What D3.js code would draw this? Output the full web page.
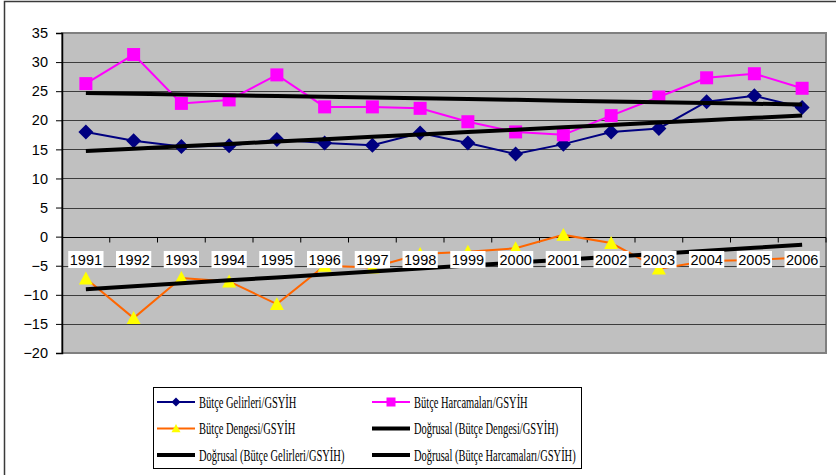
<!DOCTYPE html>
<html>
<head>
<meta charset="utf-8">
<script src="https://cdn.jsdelivr.net/npm/d3@7"></script>
<style>
  body { margin: 0; background: #fff; }
  svg { display: block; }
</style>
</head>
<body>
<script>
// Constant
const w = 836;
const h = 475;

// Data
const years = ['1991','1992','1993','1994','1995','1996','1997','1998','1999','2000','2001','2002','2003','2004','2005','2006'];
const gelirler = [18.0, 16.5, 15.5, 15.6, 16.7, 16.1, 15.7, 17.8, 16.1, 14.2, 15.9, 18.0, 18.6, 23.2, 24.2, 22.2];
const harcamalar = [26.3, 31.3, 22.9, 23.5, 27.8, 22.3, 22.3, 22.05, 19.75, 18.0, 17.5, 20.8, 24.0, 27.3, 28.0, 25.5];
const denge = [-7.2, -14.0, -7.1, -7.7, -11.6, -5.0, -5.3, -3.0, -2.6, -2.0, 0.3, -1.1, -5.5, -4.2, -4.0, -3.6];
const yTicks = [-20, -15, -10, -5, 0, 5, 10, 15, 20, 25, 30, 35];

const legendItems = [
  { label: 'Bütçe Gelirleri/GSYİH', type: 'diamond' },
  { label: 'Bütçe Harcamaları/GSYİH', type: 'square' },
  { label: 'Bütçe Dengesi/GSYİH', type: 'triangle' },
  { label: 'Doğrusal (Bütçe Dengesi/GSYİH)', type: 'trend' },
  { label: 'Doğrusal (Bütçe Gelirleri/GSYİH)', type: 'trend' },
  { label: 'Doğrusal (Bütçe Harcamaları/GSYİH)', type: 'trend' }
];

// Plot area
const plot = { left: 62, top: 33, right: 826, bottom: 353 };

const svg = d3.select('body')
  .append('svg')
  .attr('width', w)
  .attr('height', h);

// outer frame (cut at right / bottom in the original)
svg.append('rect')
  .attr('x', 4.5).attr('y', 1.5)
  .attr('width', 900).attr('height', 600)
  .attr('fill', '#fff')
  .attr('stroke', '#3a3a3a')
  .attr('stroke-width', 1.5);

const x = d3.scaleBand().domain(years).range([plot.left, plot.right]);
const y = d3.scaleLinear().domain([-20, 35]).range([plot.bottom, plot.top]);
const cx = (d, i) => x(years[i]) + x.bandwidth() / 2;

// background
svg.append('rect')
  .attr('x', plot.left).attr('y', plot.top)
  .attr('width', plot.right - plot.left).attr('height', plot.bottom - plot.top)
  .attr('fill', '#c0c0c0')
  .attr('stroke', '#808080')
  .attr('stroke-width', 2);

// gridlines
svg.append('g')
  .selectAll('line')
  .data(yTicks.filter(t => t > -20 && t < 35))
  .enter()
  .append('line')
  .attr('x1', plot.left).attr('x2', plot.right)
  .attr('y1', d => Math.round(y(d)) + 0.5).attr('y2', d => Math.round(y(d)) + 0.5)
  .attr('stroke', '#3c3c3c')
  .attr('stroke-width', 1);

// y axis
const yAxis = svg.append('g')
  .attr('transform', `translate(${plot.left},0)`)
  .call(d3.axisLeft(y).tickValues(yTicks).tickSize(6).tickPadding(8));
yAxis.select('.domain').attr('stroke', '#000').attr('stroke-width', 1.5);
yAxis.selectAll('.tick line').attr('stroke', '#000');
yAxis.selectAll('text')
  .attr('font-family', 'Liberation Sans, Arial, sans-serif')
  .attr('font-size', 14.5)
  .attr('fill', '#000');

// category axis at zero
const zeroY = Math.round(y(0)) + 0.5;
svg.append('line')
  .attr('x1', plot.left).attr('x2', plot.right)
  .attr('y1', zeroY).attr('y2', zeroY)
  .attr('stroke', '#000');
svg.append('g')
  .selectAll('line')
  .data(years.slice(1).concat(['end']))
  .enter()
  .append('line')
  .attr('x1', d => d === 'end' ? plot.right : x(d))
  .attr('x2', d => d === 'end' ? plot.right : x(d))
  .attr('y1', zeroY).attr('y2', zeroY + 5)
  .attr('stroke', '#000');

// series
const line = d3.line().x(cx).y(d => y(d));

function drawSeries(values, color) {
  svg.append('path')
    .datum(values)
    .attr('d', line)
    .attr('fill', 'none')
    .attr('stroke', color)
    .attr('stroke-width', 2);
}

function marker(g, type, size) {
  if (type === 'diamond') {
    g.append('path')
      .attr('d', `M0,${-size}L${size},0L0,${size}L${-size},0Z`)
      .attr('fill', '#000080');
  } else if (type === 'square') {
    g.append('rect')
      .attr('x', -size).attr('y', -size)
      .attr('width', size * 2).attr('height', size * 2)
      .attr('fill', '#ff00ff');
  } else if (type === 'triangle') {
    g.append('path')
      .attr('d', `M0,${-size}L${size},${size * 0.85}L${-size},${size * 0.85}Z`)
      .attr('fill', '#ffff00');
  }
}

function drawMarkers(values, type, size) {
  svg.append('g')
    .selectAll('g')
    .data(values)
    .enter()
    .append('g')
    .attr('transform', (d, i) => `translate(${cx(d, i)},${y(d)})`)
    .each(function() { marker(d3.select(this), type, size); });
}

drawSeries(gelirler, '#000080');
drawMarkers(gelirler, 'diamond', 7.5);
drawSeries(harcamalar, '#ff00ff');
drawMarkers(harcamalar, 'square', 6.5);
drawSeries(denge, '#ff6600');
drawMarkers(denge, 'triangle', 7);

// linear trendlines (least squares)
function trend(values) {
  const n = values.length;
  const mx = (n - 1) / 2;
  const my = d3.mean(values);
  let sxy = 0, sxx = 0;
  values.forEach((v, i) => { sxy += (i - mx) * (v - my); sxx += (i - mx) * (i - mx); });
  const b = sxy / sxx;
  return values.map((v, i) => my + b * (i - mx));
}

[denge, gelirler, harcamalar].forEach(s => {
  svg.append('path')
    .datum(trend(s))
    .attr('d', line)
    .attr('fill', 'none')
    .attr('stroke', '#000')
    .attr('stroke-width', 4);
});

// year labels with white boxes
const labels = svg.append('g')
  .selectAll('g')
  .data(years)
  .enter()
  .append('g')
  .attr('transform', d => `translate(${x(d) + x.bandwidth() / 2},265)`);
labels.append('text')
  .text(d => d)
  .attr('text-anchor', 'middle')
  .attr('font-family', 'Liberation Sans, Arial, sans-serif')
  .attr('font-size', 14.5)
  .attr('fill', '#000');
labels.insert('rect', 'text')
  .each(function() {
    const bb = this.parentNode.querySelector('text').getBBox();
    d3.select(this)
      .attr('x', bb.x - 1.5).attr('y', -14)
      .attr('width', bb.width + 3).attr('height', 17)
      .attr('fill', '#fff');
  });

// legend
svg.append('rect')
  .attr('x', 153.5).attr('y', 387.5)
  .attr('width', 428).attr('height', 81)
  .attr('fill', '#fff')
  .attr('stroke', '#000');

const colX = [157, 372];
const rowY = [402, 428.5, 455];
const leg = svg.append('g')
  .selectAll('g')
  .data(legendItems)
  .enter()
  .append('g')
  .attr('transform', (d, i) => `translate(${colX[i % 2]},${rowY[Math.floor(i / 2)]})`);

leg.append('line')
  .attr('x1', 0).attr('x2', 38)
  .attr('y1', 0).attr('y2', 0)
  .attr('stroke', d => ({ diamond: '#000080', square: '#ff00ff', triangle: '#ff6600', trend: '#000' })[d.type])
  .attr('stroke-width', d => d.type === 'trend' ? 4 : 2);
leg.append('g')
  .attr('transform', 'translate(19,0)')
  .each(function(d) { marker(d3.select(this), d.type, 4.5); });
leg.append('text')
  .text(d => d.label)
  .attr('transform', 'translate(42,5.5) scale(0.635,1)')
  .attr('font-family', 'Liberation Serif, Times New Roman, serif')
  .attr('font-size', 16.5)
  .attr('fill', '#000');
</script>
</body>
</html>
